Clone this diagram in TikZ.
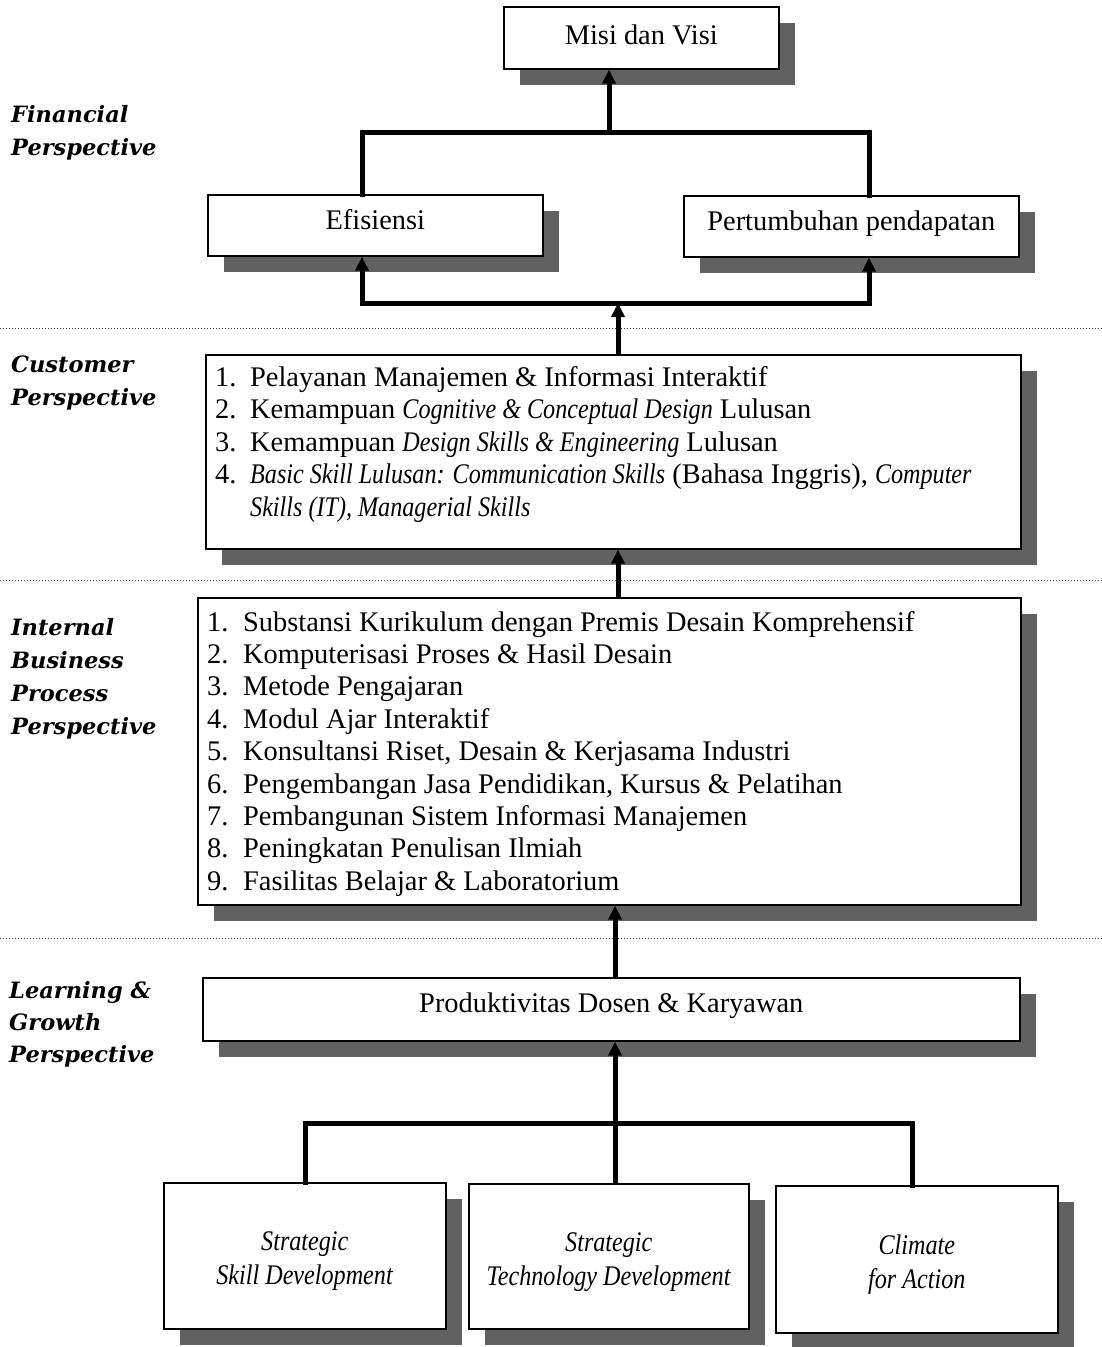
\documentclass[tikz,border=0pt]{standalone}
\usepackage{fontspec}
\setmainfont{Liberation Serif}[ItalicFeatures={FakeStretch=0.85}]
\newfontfamily\perspfont{DejaVu Serif}
\usetikzlibrary{arrows.meta,shadows}

\tikzset{
  box/.style={draw=black, line width=1.6pt, fill=white, inner sep=0pt,
    drop shadow={shadow xshift=16pt, shadow yshift=-16pt, opacity=1, fill=black!62}},
  conn/.style={line width=5pt, line cap=rect},
  upconn/.style={line width=5pt, -{Triangle[length=14pt,width=13pt]}},
  sep/.style={line width=1pt, dotted, black!75},
  itm/.style={anchor=base west, inner sep=0pt},
  ctr/.style={anchor=base, inner sep=0pt},
  persp/.style={anchor=base west, inner sep=0pt,
    font=\perspfont\bfseries\itshape\fontsize{22.5}{33}\selectfont},
}

\begin{document}
\begin{tikzpicture}[x=1pt, y=-1pt, font=\fontsize{28.4}{34}\selectfont]
\useasboundingbox (0,0) rectangle (1102,1347);
\fill[white] (0,0) rectangle (1102,1347);

% section separators
\draw[sep] (0,328) -- (1102,328);
\draw[sep] (0,580) -- (1102,580);
\draw[sep] (0,938) -- (1102,938);

% perspective labels
\node[persp] (lf1) at (11,122) {Financial};
\node[persp] (lf2) at (11,155) {Perspective};
\node[persp] (lc1) at (11,372) {Customer};
\node[persp] (lc2) at (11,405) {Perspective};
\node[persp] (li1) at (11,635) {Internal};
\node[persp] (li2) at (11,668) {Business};
\node[persp] (li3) at (11,701) {Process};
\node[persp] (li4) at (11,734) {Perspective};
\node[persp] (ll1) at (9,998) {Learning \&};
\node[persp] (ll2) at (9,1030) {Growth};
\node[persp] (ll3) at (9,1062) {Perspective};

% boxes
\node[box, anchor=north west, minimum width=275pt, minimum height=62pt] (misi) at (503,6) {};
\node[ctr] (misit) at (misi.center |- 0,44) {Misi dan Visi};

\node[box, anchor=north west, minimum width=335pt, minimum height=61pt] (efi) at (207,194) {};
\node[ctr] (efit) at (efi.center |- 0,229) {Efisiensi};

\node[box, anchor=north west, minimum width=335pt, minimum height=61pt] (pert) at (683,195) {};
\node[ctr] (pertt) at (pert.center |- 0,230) {Pertumbuhan pendapatan};

\node[box, anchor=north west, minimum width=815pt, minimum height=194pt] (cust) at (205,354) {};
\node[itm] (c1n) at (215,386) {1.};
\node[itm] (c1)  at (250,386) {Pelayanan Manajemen \& Informasi Interaktif};
\node[itm] (c2n) at (215,418.5) {2.};
\node[itm] (c2)  at (250,418.5) {Kemampuan \textit{Cognitive \& Conceptual Design} Lulusan};
\node[itm] (c3n) at (215,451) {3.};
\node[itm] (c3)  at (250,451) {Kemampuan \textit{Design Skills \& Engineering} Lulusan};
\node[itm] (c4n) at (215,483.5) {4.};
\node[itm] (c4)  at (250,483.5) {\textit{Basic Skill Lulusan: Communication Skills} (Bahasa Inggris), \textit{Computer}};
\node[itm] (c5)  at (250,516) {\textit{Skills (IT), Managerial Skills}};

\node[box, anchor=north west, minimum width=823pt, minimum height=307pt] (intl) at (197,597) {};
\node[itm] (i1n) at (207,631) {1.};
\node[itm] (i1)  at (243,631) {Substansi Kurikulum dengan Premis Desain Komprehensif};
\node[itm] (i2n) at (207,663.4) {2.};
\node[itm] (i2)  at (243,663.4) {Komputerisasi Proses \& Hasil Desain};
\node[itm] (i3n) at (207,695.8) {3.};
\node[itm] (i3)  at (243,695.8) {Metode Pengajaran};
\node[itm] (i4n) at (207,728.2) {4.};
\node[itm] (i4)  at (243,728.2) {Modul Ajar Interaktif};
\node[itm] (i5n) at (207,760.6) {5.};
\node[itm] (i5)  at (243,760.6) {Konsultansi Riset, Desain \& Kerjasama Industri};
\node[itm] (i6n) at (207,793) {6.};
\node[itm] (i6)  at (243,793) {Pengembangan Jasa Pendidikan, Kursus \& Pelatihan};
\node[itm] (i7n) at (207,825.4) {7.};
\node[itm] (i7)  at (243,825.4) {Pembangunan Sistem Informasi Manajemen};
\node[itm] (i8n) at (207,857.8) {8.};
\node[itm] (i8)  at (243,857.8) {Peningkatan Penulisan Ilmiah};
\node[itm] (i9n) at (207,890.2) {9.};
\node[itm] (i9)  at (243,890.2) {Fasilitas Belajar \& Laboratorium};

\node[box, anchor=north west, minimum width=817pt, minimum height=63pt] (prod) at (202,977) {};
\node[ctr] (prodt) at (prod.center |- 0,1012) {Produktivitas Dosen \& Karyawan};

\node[box, anchor=north west, minimum width=282pt, minimum height=146pt] (skill) at (163,1182) {};
\node[ctr] (skill1) at (skill.center |- 0,1250) {\textit{Strategic}};
\node[ctr] (skill2) at (skill.center |- 0,1284) {\textit{Skill Development}};

\node[box, anchor=north west, minimum width=280pt, minimum height=145pt] (tech) at (468,1183) {};
\node[ctr] (tech1) at (tech.center |- 0,1251) {\textit{Strategic}};
\node[ctr] (tech2) at (tech.center |- 0,1285) {\textit{Technology Development}};

\node[box, anchor=north west, minimum width=282pt, minimum height=147pt] (clim) at (775,1185) {};
\node[ctr] (clim1) at (clim.center |- 0,1254) {\textit{Climate}};
\node[ctr] (clim2) at (clim.center |- 0,1288) {\textit{for Action}};

% junction points of the connector brackets
\coordinate (tl) at (362,132);
\coordinate (tr) at (869,132);
\coordinate (tm) at (609,132);
\coordinate (bl) at (362,303);
\coordinate (br) at (869,303);
\coordinate (bm) at (618,303);
\coordinate (ml) at (305,1123);
\coordinate (mr) at (912,1123);
\coordinate (mm) at (615,1123);

% financial level
\draw[conn] (tl |- efi.north) -- (tl) -- (tr) -- (tr |- pert.north);
\draw[upconn] (tm) -- (tm |- misi.south);
\draw[conn] (bl) -- (br);
\draw[upconn] (bl) -- (bl |- efi.south);
\draw[upconn] (br) -- (br |- pert.south);
\draw[upconn] (bm |- cust.north) -- (bm);

% customer and internal levels
\draw[upconn] (bm |- intl.north) -- (bm |- cust.south);
\draw[upconn] (mm |- prod.north) -- (mm |- intl.south);

% learning and growth level
\draw[conn] (ml |- skill.north) -- (ml) -- (mr) -- (mr |- clim.north);
\draw[upconn] (mm |- tech.north) -- (mm |- prod.south);
\end{tikzpicture}
\end{document}
